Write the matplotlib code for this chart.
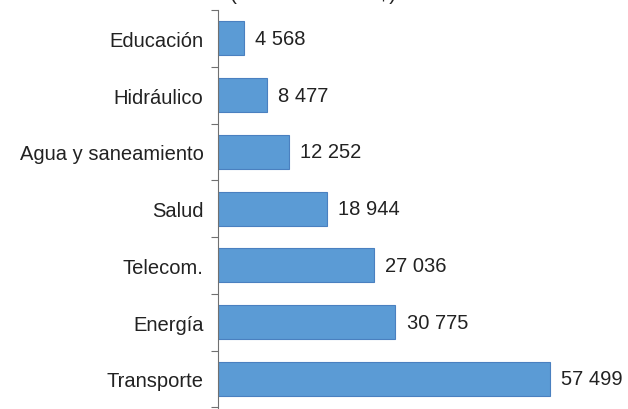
import matplotlib
matplotlib.use("Agg")
import matplotlib.pyplot as plt
import numpy as np

categories = ["Educación", "Hidráulico", "Agua y saneamiento", "Salud", "Telecom.", "Energía", "Transporte"]
values = [4568, 8477, 12252, 18944, 27036, 30775, 57499]
value_labels = ["4 568", "8 477", "12 252", "18 944", "27 036", "30 775", "57 499"]
title = "(Millones de US$)"

plt.rcParams['font.family'] = ['Liberation Sans', 'DejaVu Sans']

fig = plt.figure(figsize=(6.28, 4.10), dpi=100)
ax = fig.add_axes([218/628, 0.0, 1 - 218/628 - 0.01, 1 - 11/410])

y = np.arange(len(categories))
ax.barh(y, values, height=0.6, color="#5B9BD5", edgecolor="#4A80C0", linewidth=0.8)
ax.set_ylim(len(categories) - 0.5 + 0.03, -0.5)
ax.set_xlim(0, 70000)

for yi, v, lab in zip(y, values, value_labels):
    ax.annotate(lab, (v, yi), xytext=(8, 0), textcoords="offset points",
                va="center", ha="left", fontsize=14.5, color="#222222")

ax.set_yticks(y)
ax.set_yticklabels(categories, fontsize=14.5, color="#222222")
ax.tick_params(axis="y", which="major", length=0, pad=10.5)
ax.set_yticks(np.arange(-0.5, len(categories) + 0.5, 1), minor=True)
ax.tick_params(axis="y", which="minor", length=5, color="#707070", width=0.8)
ax.set_xticks([])
for s in ["top", "right", "bottom"]:
    ax.spines[s].set_visible(False)
ax.spines["left"].set_color("#707070")
ax.spines["left"].set_linewidth(0.8)

fig.text(313/628, 1.0, title, ha="center", va="baseline", fontsize=15, color="#222222")

fig.savefig("out.png", dpi=100)
